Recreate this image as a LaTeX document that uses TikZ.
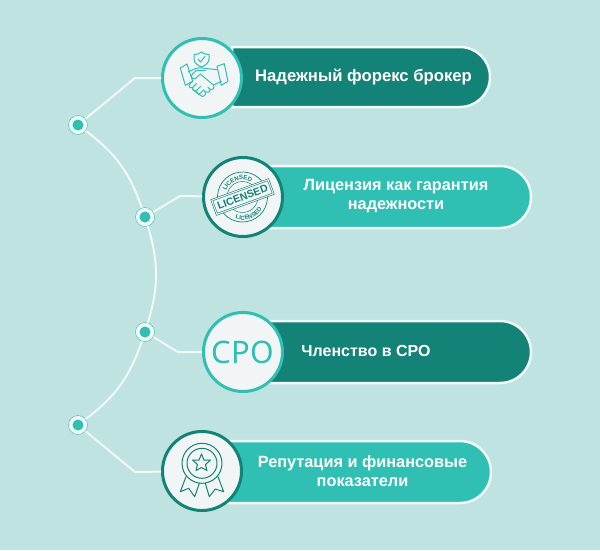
\documentclass[tikz,border=0pt]{standalone}
\usepackage{fontspec}
\setmainfont{Liberation Sans}
\newfontfamily\srofont{Noto Sans}
\usetikzlibrary{shapes.misc,decorations.text}
\definecolor{bg}{HTML}{BFE3E0}
\definecolor{darkteal}{HTML}{128376}
\definecolor{lightteal}{HTML}{2FBFB3}
\definecolor{wline}{HTML}{F1F8F8}
\definecolor{face}{HTML}{F2F5F5}
\tikzset{
  pillnode/.style={rounded rectangle,rounded rectangle west arc=none,draw=wline,line width=2.5pt,inner sep=0pt,minimum height=62pt},
  iconnode/.style={circle,fill=face,line width=3pt,inner sep=0pt,minimum size=79pt},
  labelnode/.style={text=white,align=center,font=\fontsize{16.3}{19}\selectfont\bfseries},
  dotnode/.style={circle,fill=wline,draw=lightteal,line width=0.4pt,inner sep=0pt,minimum size=19pt},
  linkline/.style={wline,line width=2pt},
  iconline/.style={line width=1pt,line join=round,line cap=round}
}

\begin{document}
\begin{tikzpicture}[x=1pt,y=-1pt]
    % background %
    \useasboundingbox (0,0) rectangle (600,550);
    \fill [bg] (0,0) rectangle (600,550);

    % pills %
    \node [pillnode,fill=darkteal,minimum width=258pt,minimum height=60pt] (pill1) at (361,77) {};
    \node [pillnode,fill=lightteal,minimum width=291pt] (pill2) at (385.5,197) {};
    \node [pillnode,fill=darkteal,minimum width=291pt] (pill3) at (385.5,352) {};
    \node [pillnode,fill=lightteal,minimum width=263pt] (pill4) at (359.5,472) {};

    % pill texts %
    \node [labelnode,font=\fontsize{16.7}{19}\selectfont\bfseries] (text1) at (363.5,77) {Надежный форекс брокер};
    \node [labelnode] (text2) at (396,196.5) {Лицензия как гарантия\\надежности};
    \node [labelnode,font=\fontsize{16}{19}\selectfont\bfseries] (text3) at (366,351) {Членство в СРО};
    \node [labelnode] (text4) at (362.5,471.5) {Репутация и финансовые\\показатели};

    % icon circles %
    \node [iconnode,draw=lightteal] (icon1) at (202,78) {};
    \node [iconnode,draw=darkteal] (icon2) at (243,197) {};
    \node [iconnode,draw=lightteal,text=lightteal,font=\srofont\fontsize{31}{31}\selectfont] (icon3) at (243,352) {СРО};
    \node [iconnode,draw=darkteal] (icon4) at (202,471) {};

    % dots and lines %
    \node [dotnode] (dot1) at (78,125) {};
    \node [dotnode] (dot2) at (145,217) {};
    \node [dotnode] (dot3) at (145,332) {};
    \node [dotnode] (dot4) at (78,425) {};
    \fill [lightteal] (dot1) circle (5.5pt);
    \fill [lightteal] (dot2) circle (5.5pt);
    \fill [lightteal] (dot3) circle (5.5pt);
    \fill [lightteal] (dot4) circle (5.5pt);
    \coordinate (corner1) at (135,78);
    \coordinate (corner2) at (180,196);
    \coordinate (corner3) at (178,352);
    \coordinate (corner4) at (135,472);
    \draw [linkline] (dot1) -- (corner1) -- (icon1);
    \draw [linkline] (dot2) -- (corner2) -- (icon2);
    \draw [linkline] (dot3) -- (corner3) -- (icon3);
    \draw [linkline] (dot4) -- (corner4) -- (icon4);
    \draw [linkline] (dot1) to [bend left=17] (dot2);
    \draw [linkline] (dot2) to [bend left=17] (dot3);
    \draw [linkline] (dot3) to [bend left=17] (dot4);

    % handshake and shield %
    \begin{scope}[shift={(202,78)},iconline,lightteal]
      \draw (-0.5,-26) .. controls (-3,-24) and (-5,-23.5) .. (-8,-23.5) -- (-8,-19) .. controls (-8,-15) and (-4,-12.5) .. (-0.5,-11) .. controls (3,-12.5) and (7,-15) .. (7,-19) -- (7,-23.5) .. controls (4,-23.5) and (2,-24) .. (-0.5,-26) -- cycle;
      \draw (-4,-19) -- (-1.5,-16) -- (3,-21.5);
      \draw (-21.7,-10) -- (-15,-14) -- (-9.3,3.3) -- (-16.7,7.3) -- cycle;
      \draw (15,-11.7) -- (22.3,-14.3) -- (26,3.3) -- (19.3,7.3) -- cycle;
      \draw (-14,-6) -- (-6.7,-9.3) .. controls (-3,-10.5) and (-2,-10) .. (0,-10) -- (15,-8.3);
      \draw (3.3,-7.3) -- (-6,-7.3) .. controls (-8,-6) and (-10,-4) .. (-11,-1.7) .. controls (-10,1) and (-8,1) .. (-6.7,0.7) -- (-1.7,-4) -- (11.7,7.3) .. controls (13,10) and (10.5,12.5) .. (8.3,11.7) -- (6,9.3);
      \draw (8.3,11.7) .. controls (8.5,14) and (6,15) .. (3.3,14) -- (1.5,12);
      \draw (3.3,14) .. controls (4.5,16) and (2,19) .. (0,18.3) -- (-5,15) -- (-9.3,11);
      \draw (11.7,7) -- (19.3,3.3);
      \draw (-9.3,3.3) -- (-13,7) .. controls (-14,9) and (-11,11) .. (-9.3,9.5) -- (-5.5,5.5);
      \draw (-9.3,9.5) .. controls (-10.5,11.5) and (-7,14) .. (-5.5,12.5) -- (-1.5,8.5);
      \draw (-5.5,12.5) .. controls (-6.5,14.5) and (-3.5,17) .. (-2,15.5) -- (1.5,12);
    \end{scope}

    % licensed stamp %
    \begin{scope}[shift={(242.5,197)},rotate=20]
      \draw [darkteal,line width=0.7pt] (0,0) circle (25pt);
      \draw [darkteal,line width=0.5pt] (0,0) circle (15.5pt);
      \path [postaction={decorate,decoration={text along path,text align=center,text color=darkteal,text={|\fontsize{6}{6}\selectfont\bfseries|LICENSED}}}]
        (155:17.5pt) arc [start angle=155,end angle=25,radius=17.5pt];
      \path [postaction={decorate,decoration={text along path,text align=center,text color=darkteal,text={|\fontsize{6}{6}\selectfont\bfseries|LICENSED}}}]
        (205:23pt) arc [start angle=205,end angle=335,radius=23pt];
      \node [transform shape,draw=darkteal,fill=face,double=face,double distance=1pt,line width=0.6pt,text=darkteal,inner sep=1pt,minimum width=60pt,minimum height=15pt,font=\fontsize{10.5}{11}\selectfont\bfseries] (stamp) at (0,0) {LICENSED};
    \end{scope}

    % medal %
    \begin{scope}[shift={(202,473)},iconline,darkteal]
      \draw (0,-9.7) circle (20pt);
      \draw (0,-9.7) circle (15pt);
      \draw (-0.5,-19) -- (2,-13) -- (8.5,-13) -- (3.5,-8.5) -- (5,-2.5) -- (-0.5,-5.5) -- (-6,-2.5) -- (-4.5,-8.5) -- (-9.5,-13) -- (-3,-13) -- cycle;
      \draw (-16,3.7) -- (-21.7,18.7) -- (-13.3,15.3) -- (-7.3,23.7) -- (-2.7,10.3);
      \draw (16,3.7) -- (21.7,18.7) -- (13.3,16) -- (7.3,23.7) -- (3.3,10.3);
    \end{scope}
\end{tikzpicture}
\end{document}
